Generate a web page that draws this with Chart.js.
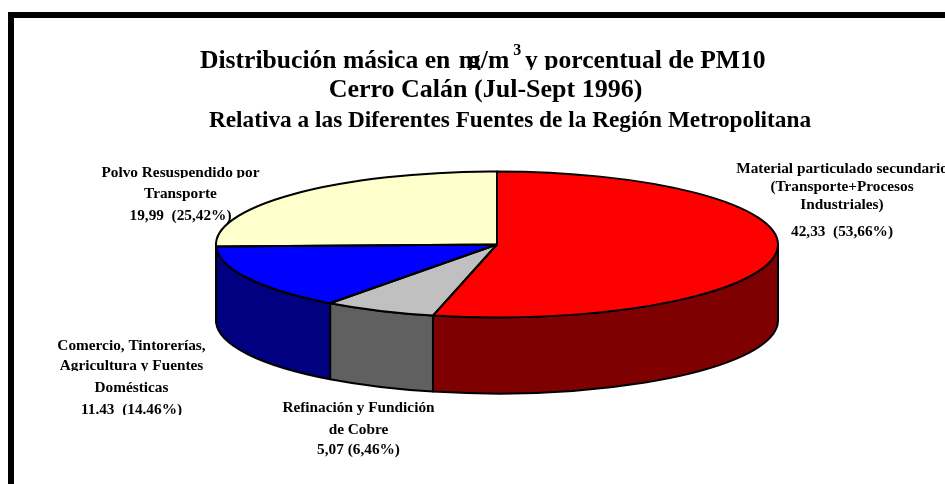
<!DOCTYPE html>
<html><head><meta charset="utf-8">
<style>html,body{margin:0;padding:0;background:#fff}canvas{display:block}</style>
<script src="https://cdn.jsdelivr.net/npm/chart.js@4"></script>
</head><body>
<div style="width:945px;height:484px"><canvas id="c" width="945" height="484"></canvas></div>
<script>
const categories = ["Material particulado secundario","Refinación y Fundición de Cobre","Comercio, Tintorerías, Agricultura y Fuentes Domésticas","Polvo Resuspendido por Transporte"];
const shares = [53.66, 6.46, 14.46, 25.42];
const topColors = ["#ff0000","#c0c0c0","#0000ff","#ffffcc"];
const sideColors = ["#7f0000","#606060","#000080","#ffffcc"];
const FONT = '"Liberation Serif"';
const titleLines = [
  {parts:[["Distribución másica en ",0],["m",2],["g/m",-12],["3",4,'sup'],[" y porcentual de PM10",-2.5]],x:200,y:68,size:25.6,clipB:70},
  {text:"Cerro Calán (Jul-Sept 1996)",cx:485.5,y:97,size:26},
  {text:"Relativa a las Diferentes Fuentes de la Región Metropolitana",cx:510,y:127,size:23.3}
];
const labelBlocks = [
 {cx:842,lines:[["Material particulado secundario",173],["(Transporte+Procesos",191],["Industriales)",209],["42,33  (53,66%)",236]],size:15.3},
 {cx:180.5,lines:[["Polvo Resuspendido por",177,178],["Transporte",198],["19,99  (25,42%)",220]],size:15.3},
 {cx:131.5,lines:[["Comercio, Tintorerías,",350],["Agricultura y Fuentes",370,371],["Domésticas",392],["11.43  (14.46%)",414,415]],size:15.3},
 {cx:358.5,lines:[["Refinación y Fundición",412],["de Cobre",434],["5,07 (6,46%)",454]],size:15.3}
];
const Ky = 73/281, depth = 76;
function ellipticPath(ctx,a,tilt){
  ctx.save();
  ctx.translate(0,a.y);ctx.scale(1,tilt);ctx.translate(0,-a.y);
  ctx.beginPath();ctx.moveTo(a.x,a.y);ctx.arc(a.x,a.y,a.outerRadius,a.startAngle,a.endAngle);ctx.closePath();
  ctx.restore();
}
const pie3d = {
  id:'pie3d',
  beforeDatasetsDraw(chart){
    const ctx=chart.ctx, arcs=chart.getDatasetMeta(0).data;
    ctx.save();ctx.lineWidth=2;ctx.strokeStyle='#000';ctx.lineJoin='round';
    arcs.forEach((a,i)=>{
      const two=Math.PI*2;
      let s=a.startAngle, e=a.endAngle;
      const ranges=[[0,Math.PI],[two,two+Math.PI],[-two,-Math.PI]];
      ranges.forEach(([lo,hi])=>{
        const s1=Math.max(s,lo), e1=Math.min(e,hi);
        if(e1<=s1) return;
        ctx.beginPath();
        ctx.ellipse(a.x,a.y,a.outerRadius,a.outerRadius*Ky,0,s1,e1);
        ctx.lineTo(a.x+a.outerRadius*Math.cos(e1),a.y+a.outerRadius*Ky*Math.sin(e1)+depth);
        ctx.ellipse(a.x,a.y+depth,a.outerRadius,a.outerRadius*Ky,0,e1,s1,true);
        ctx.closePath();
        ctx.fillStyle=sideColors[i];ctx.fill();ctx.stroke();
      });
    });
    ctx.restore();
    ctx.save();
    const a0=arcs[0];
    ctx.translate(0,a0.y);ctx.scale(1,Ky);ctx.translate(0,-a0.y);
  },
  afterDatasetsDraw(chart){
    const ctx=chart.ctx, arcs=chart.getDatasetMeta(0).data;
    ctx.restore();
    ctx.save();ctx.lineWidth=2;ctx.strokeStyle='#000';ctx.lineJoin='round';
    arcs.forEach(a=>{ellipticPath(ctx,a,Ky);ctx.stroke();});
    ctx.restore();
  },
  afterDraw(chart){
    const ctx=chart.ctx;
    ctx.save();
    ctx.fillStyle='#000';
    ctx.fillRect(8,12,937,6);
    ctx.fillRect(8,12,6,472);
    ctx.textBaseline='alphabetic';
    titleLines.forEach(l=>{
      ctx.font=`bold ${l.size}px ${FONT}`;
      if(l.parts){
        ctx.save();
        ctx.beginPath();ctx.rect(0,0,945,l.clipB);ctx.clip();
        let x=l.x;ctx.textAlign='left';
        l.parts.forEach(([t,adj,kind])=>{
          x+=adj;
          if(kind==='sup'){
            ctx.font=`bold 16px ${FONT}`;ctx.fillText(t,x,l.y-13);x+=ctx.measureText(t).width;ctx.font=`bold ${l.size}px ${FONT}`;
          }else{ctx.fillText(t,x,l.y);x+=ctx.measureText(t).width;}
        });
        ctx.restore();
      }else{
        ctx.textAlign='center';ctx.fillText(l.text,l.cx,l.y);
      }
    });
    ctx.textAlign='center';
    labelBlocks.forEach(b=>{
      ctx.font=`bold ${b.size}px ${FONT}`;
      b.lines.forEach(([t,y,clip])=>{
        ctx.save();
        if(clip){ctx.beginPath();ctx.rect(0,0,945,clip);ctx.clip();}
        ctx.fillText(t,b.cx,y);
        ctx.restore();
      });
    });
    ctx.restore();
  }
};
new Chart(document.getElementById('c'),{
  type:'pie',
  data:{labels:categories,datasets:[{data:shares,backgroundColor:topColors,borderWidth:0}]},
  options:{
    responsive:false,animation:false,
    radius:281,rotation:0,
    layout:{padding:{left:49,right:0,top:5,bottom:0}},
    events:[],
    plugins:{legend:{display:false},tooltip:{enabled:false},title:{display:false}}
  },
  plugins:[pie3d]
});
</script>
</body></html>
